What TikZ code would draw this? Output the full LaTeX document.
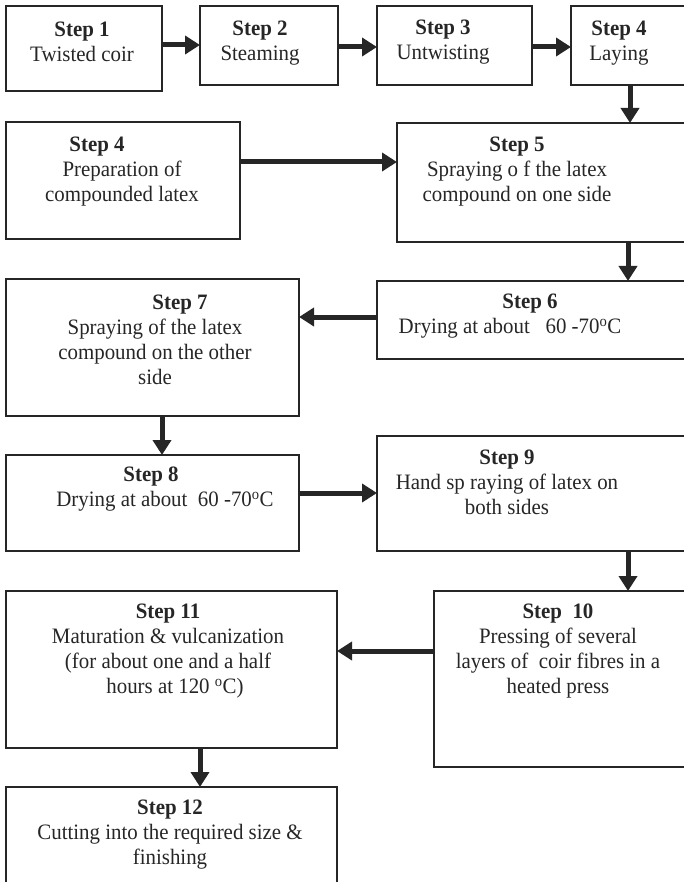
\documentclass[tikz,border=0pt]{standalone}
\usepackage{fontspec}
\setmainfont{Liberation Serif}[FakeStretch=0.95]
\usetikzlibrary{arrows.meta}
\definecolor{ink}{RGB}{38,38,38}
\begin{document}
\begin{tikzpicture}[x=1pt,y=-1pt,
  box/.style={draw=ink, line width=2pt, inner sep=0pt, outer sep=0pt, rectangle},
  txt/.style={text=ink, align=center, font=\fontsize{22}{25}\selectfont, inner sep=0pt},
  arr/.style={draw=ink, line width=5pt, -{Triangle[length=15pt,width=18pt]}}]
\useasboundingbox (0,0) rectangle (683,882);
% boxes
\node[box, minimum width=156pt, minimum height=85pt]  (s1)  at (84,48.5) {};
\node[box, minimum width=138pt, minimum height=79pt]  (s2)  at (269,45.5) {};
\node[box, minimum width=155pt, minimum height=79pt]  (s3)  at (454.5,45.5) {};
\node[box, minimum width=119pt, minimum height=79pt]  (s4)  at (630.5,45.5) {};
\node[box, minimum width=234pt, minimum height=117pt] (sp)  at (123,180.5) {};
\node[box, minimum width=293pt, minimum height=119pt] (s5)  at (543.5,182.5) {};
\node[box, minimum width=313pt, minimum height=78pt]  (s6)  at (533.5,320) {};
\node[box, minimum width=293pt, minimum height=137pt] (s7)  at (152.5,347.5) {};
\node[box, minimum width=293pt, minimum height=96pt]  (s8)  at (152.5,503) {};
\node[box, minimum width=313pt, minimum height=115pt] (s9)  at (533.5,493.5) {};
\node[box, minimum width=256pt, minimum height=176pt] (s10) at (562,679) {};
\node[box, minimum width=331pt, minimum height=157pt] (s11) at (171.5,669.5) {};
\node[box, minimum width=331pt, minimum height=105pt] (s12) at (171.5,839.5) {};
% texts
\node[txt] (t1)  at (82,41.5)  {\textbf{Step 1}\\Twisted coir};
\node[txt] (t2)  at (260,43)   {\textbf{Step 2}\\Steaming};
\node[txt] (t3)  at (443,42)   {\textbf{Step 3}\\Untwisting};
\node[txt] (t4)  at (619,43)   {\textbf{Step 4}\\Laying};
\node[txt] (tp)  at (122,172)  {\textbf{Step 4}\hspace*{50pt}\\Preparation of\\compounded latex};
\node[txt] (t5)  at (517,172)  {\textbf{Step 5}\\Spraying o f the latex\\compound on one side};
\node[txt] (t6)  at (510,316.5) {\hspace*{40pt}\textbf{Step 6}\\Drying at about \ \ 60 -70\textsuperscript{o}C};
\node[txt] (t7)  at (155,339.5) {\hspace*{50pt}\textbf{Step 7}\\Spraying of the latex\\compound on the other\\side};
\node[txt] (t8)  at (165,489.5) {\textbf{Step 8}\hspace*{28pt}\\Drying at about \ 60 -70\textsuperscript{o}C};
\node[txt] (t9)  at (507,482.5) {\textbf{Step 9}\\Hand sp raying of latex on\\both sides};
\node[txt] (t10) at (558,651.5) {\textbf{Step \ 10}\\Pressing of several\\layers of \ coir fibres in a\\heated press};
\node[txt] (t11) at (168,651.5) {\textbf{Step 11}\\Maturation \& vulcanization\\(for about one and a half\hspace*{12pt}\\\hspace*{14pt}hours at 120 \textsuperscript{o}C)};
\node[txt] (t12) at (170,835)   {\textbf{Step 12}\\Cutting into the required size \&\\finishing};
% connectors
\draw[arr] (s1.east |- 0,45) -- (s2.west |- 0,45);
\draw[arr] (s2.east |- 0,47) -- (s3.west |- 0,47);
\draw[arr] (s3.east |- 0,47) -- (s4.west |- 0,47);
\draw[arr] (s4.south -| 630,0) -- (s5.north -| 630,0);
\draw[arr] (sp.east |- 0,162) -- (s5.west |- 0,162);
\draw[arr] (s5.south -| 628,0) -- (s6.north -| 628,0);
\draw[arr] (s6.west |- 0,317) -- (s7.east |- 0,317);
\draw[arr] (s7.south -| 162,0) -- (s8.north -| 162,0);
\draw[arr] (s8.east |- 0,493) -- (s9.west |- 0,493);
\draw[arr] (s9.south -| 628,0) -- (s10.north -| 628,0);
\draw[arr] (s10.west |- 0,651) -- (s11.east |- 0,651);
\draw[arr] (s11.south -| 200,0) -- (s12.north -| 200,0);
\end{tikzpicture}
\end{document}
